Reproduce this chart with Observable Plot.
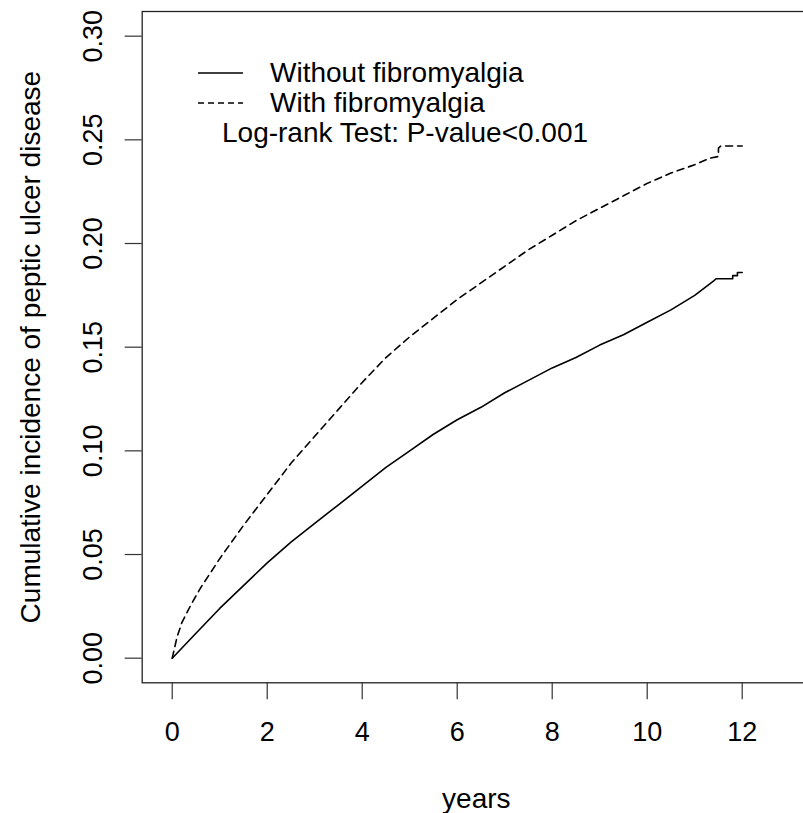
<!DOCTYPE html>
<html>
<head>
<meta charset="utf-8">
<script src="https://cdn.jsdelivr.net/npm/d3@7"></script>
<script src="https://cdn.jsdelivr.net/npm/@observablehq/plot@0.6"></script>
<style>
  html, body { margin: 0; padding: 0; background: #fff; overflow: hidden; }
  #wrap { position: relative; width: 803px; height: 813px; overflow: hidden;
          font-family: "Liberation Sans", Arial, sans-serif; color: #000; }
  #chart svg { display: block; max-width: none !important; }
  .leg-text { position: absolute; font-size: 28px; line-height: 1; white-space: nowrap; }
  #legend-lines { position: absolute; left: 0; top: 0; }
</style>
</head>
<body>
<div id="wrap">
  <div id="chart"></div>
  <svg id="legend-lines" width="803" height="200"></svg>
  <div id="legend"></div>
</div>
<script>
// ---- data ----
const withoutYears = [0, 0.5, 1, 1.5, 2, 2.5, 3, 3.5, 4, 4.5, 5, 5.5, 6, 6.5, 7, 7.5, 8, 8.5, 9, 9.5, 10, 10.5, 11, 11.4, 11.45, 11.8, 11.8, 11.9, 11.9, 12];
const withoutCI    = [0, 0.012, 0.024, 0.035, 0.046, 0.056, 0.065, 0.074, 0.083, 0.092, 0.100, 0.108, 0.115, 0.121, 0.128, 0.134, 0.140, 0.145, 0.151, 0.156, 0.162, 0.168, 0.175, 0.182, 0.183, 0.183, 0.1845, 0.1845, 0.186, 0.186];

const withYears = [0, 0.1, 0.2, 0.4, 0.6, 0.8, 1, 1.5, 2, 2.5, 3, 3.5, 4, 4.5, 5, 5.5, 6, 6.5, 7, 7.5, 8, 8.5, 9, 9.5, 10, 10.5, 11, 11.3, 11.5, 11.5, 11.55, 12];
const withCI    = [0, 0.010, 0.017, 0.026, 0.034, 0.041, 0.048, 0.064, 0.079, 0.094, 0.107, 0.120, 0.133, 0.145, 0.155, 0.164, 0.173, 0.181, 0.189, 0.197, 0.204, 0.211, 0.217, 0.223, 0.229, 0.234, 0.238, 0.241, 0.242, 0.246, 0.247, 0.247];

const xTicks = [0, 2, 4, 6, 8, 10, 12];
const yTicks = [0.00, 0.05, 0.10, 0.15, 0.20, 0.25, 0.30];
const seriesNames = ["Without fibromyalgia", "With fibromyalgia"];
const testNote = "Log-rank Test: P-value<0.001";
const xLabel = "years";
const yLabel = "Cumulative incidence of peptic ulcer disease";

// ---- build tables ----
const withoutData = withoutYears.map((t, i) => ({t, ci: withoutCI[i], group: seriesNames[0]}));
const withData = withYears.map((t, i) => ({t, ci: withCI[i], group: seriesNames[1]}));

const FONT = "Liberation Sans, Arial, sans-serif";

const chart = Plot.plot({
  width: 811,
  height: 813,
  marginLeft: 141.7,
  marginRight: 1,
  marginTop: 11,
  marginBottom: 130.7,
  style: {fontFamily: FONT, fontSize: "27px", color: "#000", background: "#fff", overflow: "visible"},
  x: {domain: [-0.632, 13.438]},
  y: {domain: [-0.01187, 0.3119]},
  marks: [
    Plot.frame({stroke: "#222", strokeWidth: 1.3}),
    Plot.axisX({ticks: xTicks, tickSize: 17, tickPadding: 22, tickFormat: d => String(d), label: null, stroke: "#333", strokeWidth: 1.2}),
    Plot.axisY({ticks: yTicks, tickSize: 17, tickFormat: () => "", label: null, stroke: "#333", strokeWidth: 1.2}),
    Plot.text(yTicks, {y: d => d, text: d => d.toFixed(2), frameAnchor: "left", textAnchor: "middle", rotate: -90, dx: -48.7, fontSize: 27}),
    Plot.text([yLabel], {text: d => d, frameAnchor: "left", textAnchor: "middle", rotate: -90, dx: -111.5, fontSize: 28}),
    Plot.text([xLabel], {text: d => d, frameAnchor: "bottom", dy: 125, fontSize: 28}),
    Plot.line(withoutData, {x: "t", y: "ci", stroke: "#000", strokeWidth: 1.6}),
    Plot.line(withData, {x: "t", y: "ci", stroke: "#000", strokeWidth: 1.6, strokeDasharray: "7,5"})
  ]
});
document.getElementById("chart").appendChild(chart);

// ---- legend (drawn inside the plot area as in the original) ----
const ll = d3.select("#legend-lines");
ll.append("line").attr("x1", 198).attr("x2", 243).attr("y1", 73).attr("y2", 73)
  .attr("stroke", "#000").attr("stroke-width", 1.6);
ll.append("line").attr("x1", 198).attr("x2", 243).attr("y1", 103).attr("y2", 103)
  .attr("stroke", "#000").attr("stroke-width", 1.6).attr("stroke-dasharray", "6,4");

const leg = d3.select("#legend");
leg.append("div").attr("class", "leg-text").style("left", "270px").style("top", "59px").text(seriesNames[0]);
leg.append("div").attr("class", "leg-text").style("left", "270px").style("top", "89px").text(seriesNames[1]);
leg.append("div").attr("class", "leg-text").style("left", "222px").style("top", "119px").text(testNote);
</script>
</body>
</html>
